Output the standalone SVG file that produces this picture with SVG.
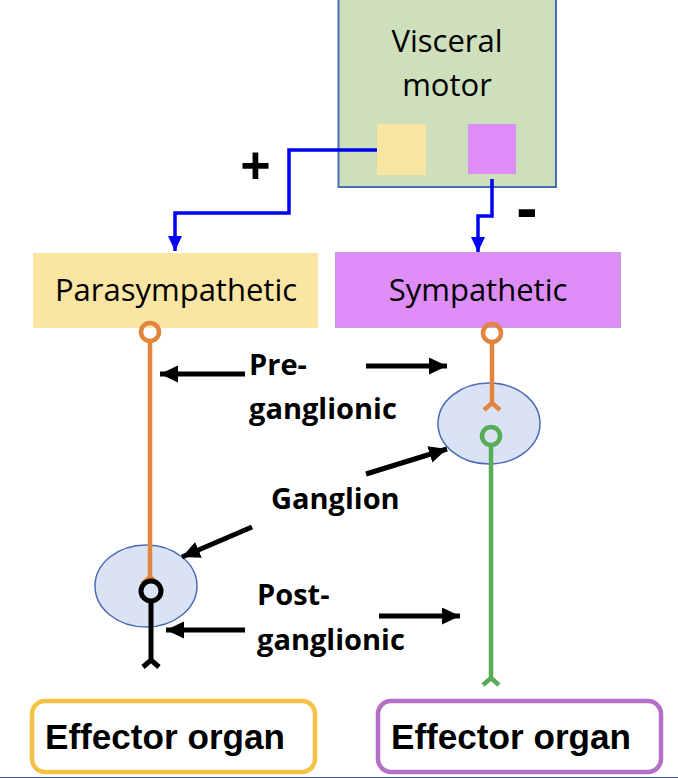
<svg xmlns="http://www.w3.org/2000/svg" width="678" height="778" viewBox="0 0 678 778">
<defs>
<style>
.lbl{font-family:"Open Sans","Noto Sans","Liberation Sans",sans-serif;font-size:31px;fill:#000}
.bl{font-family:"Open Sans","Noto Sans","Liberation Sans",sans-serif;font-size:29px;font-weight:bold;fill:#000}
.eff{font-family:"Liberation Sans",Arial,sans-serif;font-size:35px;font-weight:bold;fill:#000}
.sign{font-family:"Liberation Sans",Arial,sans-serif;font-weight:bold;fill:#000}
.blue{fill:none;stroke:#0000F5;stroke-width:3.5}
.arr{fill:none;stroke:#000;stroke-width:5}
.gang{fill:#DAE3F5;stroke:#4A6BB5;stroke-width:1.5}
.or{fill:none;stroke:#E2853F;stroke-width:4.5}
.gr{fill:none;stroke:#57AC57;stroke-width:4.5}
.bk{fill:none;stroke:#000;stroke-width:5}
</style>
<marker id="bh" markerUnits="userSpaceOnUse" markerWidth="20" markerHeight="20" refX="15" refY="7" orient="auto">
<path d="M0,0 L15,7 L0,14 z" fill="#0000F5"/>
</marker>
<marker id="ah" markerUnits="userSpaceOnUse" markerWidth="20" markerHeight="20" refX="18" refY="8.5" orient="auto">
<path d="M0,0 L18,8.5 L0,17 z" fill="#000"/>
</marker>
</defs>
<rect width="678" height="778" fill="#fff"/>

<g id="visceral-motor">
<rect x="338.5" y="-5" width="217.5" height="192" fill="#CDDFBB" stroke="#4A6DB8" stroke-width="2"/>
<text class="lbl" x="447" y="52" text-anchor="middle">Visceral</text>
<text class="lbl" x="447" y="96" text-anchor="middle">motor</text>
<rect x="377" y="124" width="49" height="51" fill="#FAE5A3"/>
<rect x="468" y="124" width="48" height="50" fill="#DE8DF7"/>
</g>

<g id="parasympathetic">
<rect x="33" y="253" width="285" height="75" fill="#FAE5A3"/>
<text class="lbl" x="176" y="301" text-anchor="middle">Parasympathetic</text>
</g>

<g id="sympathetic">
<rect x="335.5" y="252.5" width="285" height="75" fill="#DE8DF7" stroke="#C39BE0" stroke-width="1"/>
<text class="lbl" x="478" y="301" text-anchor="middle">Sympathetic</text>
</g>

<g id="ganglion-para">
<ellipse class="gang" cx="146" cy="586" rx="51" ry="41"/>
</g>
<g id="ganglion-symp">
<ellipse class="gang" cx="489" cy="423.5" rx="51" ry="40.5"/>
</g>

<g id="neuron-para-pre">
<line class="or" x1="150" y1="341" x2="150" y2="578"/>
<polyline class="or" points="142,584 150,577 158,584"/>
<circle class="or" cx="150" cy="332" r="9" fill="#fff"/>
</g>
<g id="neuron-para-post">
<line class="bk" x1="151" y1="601" x2="151" y2="661"/>
<polyline class="bk" points="143,667 151,660 159,667" stroke-width="4.5"/>
<circle class="bk" cx="151" cy="591" r="10" fill="#DAE3F5"/>
</g>
<g id="neuron-symp-pre">
<line class="or" x1="492" y1="342" x2="492" y2="404"/>
<polyline class="or" points="484,410 492,403 500,410"/>
<circle class="or" cx="492" cy="333" r="9" fill="#fff"/>
</g>
<g id="neuron-symp-post">
<line class="gr" x1="491" y1="445" x2="491" y2="679"/>
<polyline class="gr" points="483,685 491,678 499,685"/>
<circle class="gr" cx="491" cy="436" r="9" fill="#DAE3F5"/>
</g>

<g id="effector-para">
<rect x="32" y="701" width="283" height="71" rx="13" fill="#fff" stroke="#F6C244" stroke-width="4.5"/>
<text class="eff" x="45" y="749" textLength="240" lengthAdjust="spacingAndGlyphs">Effector organ</text>
</g>
<g id="effector-symp">
<rect x="378" y="701" width="283" height="71" rx="13" fill="#fff" stroke="#B46FC8" stroke-width="4.5"/>
<text class="eff" x="391" y="749" textLength="240" lengthAdjust="spacingAndGlyphs">Effector organ</text>
</g>

<g id="labels">
<text class="bl" x="249" y="375">Pre-</text>
<text class="bl" x="249" y="419">ganglionic</text>
<text class="bl" x="271" y="509">Ganglion</text>
<text class="bl" x="257" y="605">Post-</text>
<text class="bl" x="257" y="650">ganglionic</text>
<text class="sign" x="255.5" y="183" font-size="52" text-anchor="middle">+</text>
<text class="sign" x="527" y="230" font-size="64" text-anchor="middle">-</text>
</g>

<g id="connectors">
<polyline class="blue" points="377,150 289,150 289,213 175,213 175,251" marker-end="url(#bh)"/>
<polyline class="blue" points="492,179 492,216 478,216 478,252" marker-end="url(#bh)"/>
<line class="arr" x1="245" y1="374" x2="160" y2="374" marker-end="url(#ah)"/>
<line class="arr" x1="366" y1="366" x2="447" y2="366" marker-end="url(#ah)"/>
<line class="arr" x1="366" y1="474" x2="447" y2="449" marker-end="url(#ah)"/>
<line class="arr" x1="252" y1="527" x2="182" y2="557" marker-end="url(#ah)"/>
<line class="arr" x1="245" y1="630" x2="166" y2="630" marker-end="url(#ah)"/>
<line class="arr" x1="379" y1="616" x2="460" y2="616" marker-end="url(#ah)"/>
</g>

<line x1="0" y1="777.5" x2="678" y2="777.5" stroke="#4A5FA0" stroke-width="1.2"/>
</svg>
